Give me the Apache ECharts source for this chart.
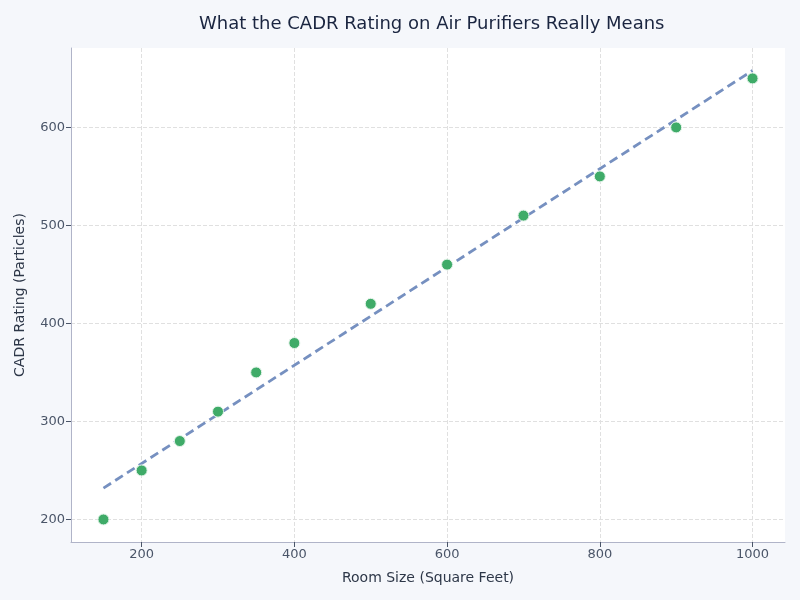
<!DOCTYPE html>
<html>
<head>
<meta charset="utf-8">
<script src="https://cdn.jsdelivr.net/npm/echarts@6/dist/echarts.min.js"></script>
<style>
  html, body { margin: 0; padding: 0; background: #f5f7fb; }
  #chart { width: 800px; height: 600px; }
</style>
</head>
<body>
<div id="chart"></div>
<script>
// room sizes (square feet) and matching CADR ratings
var roomSizes = [150, 200, 250, 300, 350, 400, 500, 600, 700, 800, 900, 1000];
var cadrRatings = [200, 250, 280, 310, 350, 380, 420, 460, 510, 550, 600, 650];

// trend line end points
var trendX = [150, 1000];
var trendY = [232, 658];

// tick values shown on each axis
var xTicks = [200, 400, 600, 800, 1000];
var yTicks = [200, 300, 400, 500, 600];

var points = roomSizes.map(function (x, i) { return [x, cadrRatings[i]]; });
var trend = trendX.map(function (x, i) { return [x, trendY[i]]; });

var chart = echarts.init(document.getElementById('chart'));

var textColor = '#4a5568';
var font = 'DejaVu Sans';

var option = {
    backgroundColor: '#f5f7fb',
    textStyle: { fontFamily: font },
    title: {
        text: 'What the CADR Rating on Air Purifiers Really Means',
        left: 194,
        top: 10,
        textStyle: { fontSize: 18, fontWeight: 'normal', color: '#1a2540', fontFamily: font }
    },
    grid: {
        left: 71, right: 15, top: 48, bottom: 58,
        show: true, backgroundColor: '#ffffff', borderWidth: 0
    },
    xAxis: {
        type: 'value',
        min: 107.5,
        max: 1042.5,
        name: 'Room Size (Square Feet)',
        nameLocation: 'middle',
        nameGap: 29,
        nameTextStyle: { color: '#2d3748', fontSize: 14, fontFamily: font },
        axisLine: { show: true, lineStyle: { color: '#b0b4c8' } },
        axisTick: { show: true, length: 5, lineStyle: { color: '#4a5568' }, customValues: xTicks },
        axisLabel: {
            color: textColor, fontSize: 13, fontFamily: font, margin: 6,
            customValues: xTicks,
            formatter: function (v) { return String(v); }
        },
        splitLine: { show: true, lineStyle: { color: '#e0e0e0', type: 'dashed' } }
    },
    yAxis: {
        type: 'value',
        min: 177,
        max: 681,
        name: 'CADR Rating (Particles)',
        nameLocation: 'middle',
        nameGap: 44,
        nameTextStyle: { color: '#2d3748', fontSize: 14, fontFamily: font },
        axisLine: { show: true, lineStyle: { color: '#b0b4c8' } },
        axisTick: { show: true, length: 5, lineStyle: { color: '#4a5568' }, customValues: yTicks },
        axisLabel: { color: textColor, fontSize: 13, fontFamily: font, margin: 6, customValues: yTicks },
        splitLine: { show: true, lineStyle: { color: '#e0e0e0', type: 'dashed' } }
    },
    series: [{
        name: 'Trend',
        type: 'line',
        data: trend,
        symbol: 'none',
        z: 1,
        lineStyle: { color: '#7690c0', width: 2.8, type: [9, 5] }
    }, {
        name: 'CADR',
        type: 'scatter',
        data: points,
        symbolSize: 11,
        z: 2,
        itemStyle: { color: '#3fab68', opacity: 1, borderColor: '#e6f5ec', borderWidth: 1 }
    }]
};

chart.setOption(option);
</script>
</body>
</html>
